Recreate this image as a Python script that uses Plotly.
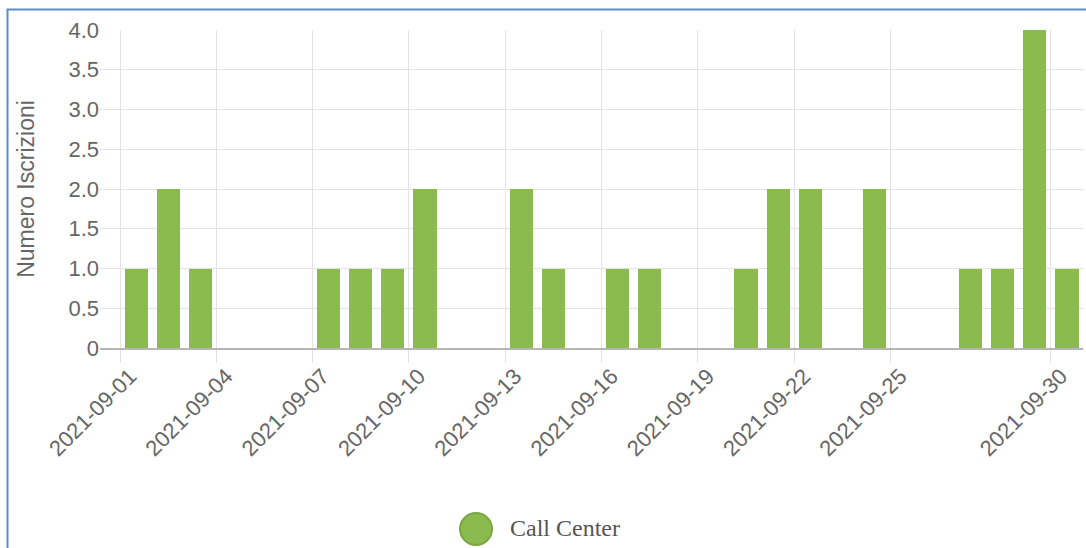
import plotly.graph_objects as go

# ---- data ----
dates = [f"2021-09-{d:02d}" for d in range(1, 31)]
iscrizioni = [1, 2, 1, 0, 0, 0, 1, 1, 1, 2,
              0, 0, 2, 1, 0, 1, 1, 0, 0, 1,
              2, 2, 0, 2, 0, 0, 1, 1, 4, 1]
x_tick_vals = ["2021-09-01", "2021-09-04", "2021-09-07", "2021-09-10", "2021-09-13",
               "2021-09-16", "2021-09-19", "2021-09-22", "2021-09-25", "2021-09-30"]
y_tick_vals = [0, 0.5, 1.0, 1.5, 2.0, 2.5, 3.0, 3.5, 4.0]
y_tick_text = ["0", "0.5", "1.0", "1.5", "2.0", "2.5", "3.0", "3.5", "4.0"]
series_name = "Call Center"

# ---- layout geometry (pixels) ----
W, H = 1086, 548
L, R, T, B = 100, 3, 30, 200
PW, PH = W - L - R, H - T - B

def px(x):
    return (x - L) / PW

def py(y):
    return 1 - (y - T) / PH

GREEN = "#8BBB4F"
GRAY = "#666666"
DAY = 86400000

fig = go.Figure()
fig.add_trace(go.Bar(
    x=dates, y=iscrizioni, name=series_name,
    xperiod=DAY, xperiodalignment="middle",
    width=0.72 * DAY,
    marker=dict(color=GREEN, line=dict(width=0)),
    showlegend=False,
))

fig.update_layout(
    width=W, height=H,
    margin=dict(l=L, r=R, t=T, b=B),
    paper_bgcolor="white", plot_bgcolor="white",
    font=dict(family="Liberation Sans, Arial, sans-serif", color=GRAY),
    xaxis=dict(
        type="date",
        range=["2021-08-31 09:00", "2021-10-01 00:00"],
        tickvals=x_tick_vals, ticktext=x_tick_vals,
        tickangle=-45,
        tickfont=dict(size=22, color=GRAY),
        showgrid=True, gridcolor="#e3e3e3", gridwidth=1,
        ticks="outside", ticklen=13, tickcolor="#e0e0e0",
        ticklabelstandoff=-8, ticklabelshift=10,
        showline=True, linecolor="#b5b5b5", linewidth=1.5,
        zeroline=False,
    ),
    yaxis=dict(
        range=[0, 4],
        tickvals=y_tick_vals, ticktext=y_tick_text,
        tickfont=dict(size=22, color=GRAY),
        showgrid=True, gridcolor="#e3e3e3", gridwidth=1,
        zeroline=False, showline=False,
        title=dict(text="Numero Iscrizioni", font=dict(size=23, color=GRAY), standoff=27),
    ),
    bargap=0,
)

# legend (drawn as decoration)
cx, cy, r = 476, 529, 16
fig.add_shape(type="circle", xref="paper", yref="paper",
              x0=px(cx - r), x1=px(cx + r), y0=py(cy + r), y1=py(cy - r),
              fillcolor=GREEN, line=dict(color="#79a843", width=2))
fig.add_annotation(xref="paper", yref="paper", x=px(508), y=py(528),
                   xanchor="left", yanchor="middle", showarrow=False,
                   text=series_name,
                   font=dict(family="Liberation Serif, Times New Roman, serif", size=24, color="#555555"))

# blue frame of the screenshot
fig.add_shape(type="rect", xref="paper", yref="paper",
              x0=px(7.5), x1=px(W + 10), y0=py(H + 10), y1=py(9.5),
              line=dict(color="#5B8BD0", width=2), fillcolor="rgba(0,0,0,0)", layer="above")

fig.write_html("out.html", config={"displayModeBar": False},
               post_script="document.body.style.margin='0px';document.body.style.overflow='hidden';")
